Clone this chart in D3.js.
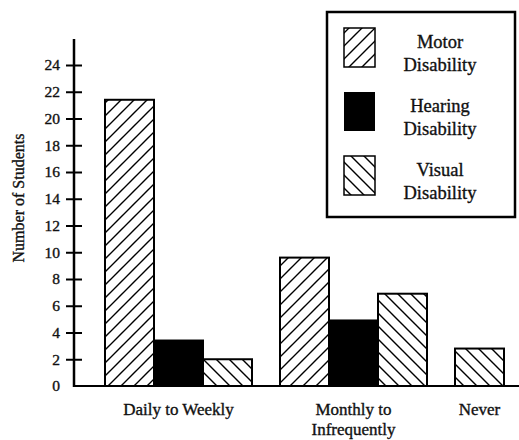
<!DOCTYPE html>
<html lang="en">
<head>
  <meta charset="UTF-8">
  <title>Number of Students by Disability</title>
  <script src="https://d3js.org/d3.v7.min.js"></script>
  <style>
    body {
      margin: 0;
      background: white;
    }
    svg text {
      font-family: "Liberation Serif", "DejaVu Serif", serif;
      fill: #111;
      stroke: #111;
      stroke-width: 0.35px;
    }
  </style>
</head>
<body>
  <svg width="519" height="440"></svg>

  <script>
    const groups = ["Daily to Weekly", "Monthly to Infrequently", "Never"];
    const groupLines = [["Daily to Weekly"], ["Monthly to", "Infrequently"], ["Never"]];
    const seriesNames = ["Motor Disability", "Hearing Disability", "Visual Disability"];
    const seriesLines = [["Motor", "Disability"], ["Hearing", "Disability"], ["Visual", "Disability"]];
    const motor = [21.4, 9.6, 0];
    const hearing = [3.4, 4.9, 0];
    const visual = [2.0, 6.9, 2.8];
    const yTicks = [0, 2, 4, 6, 8, 10, 12, 14, 16, 18, 20, 22, 24];

    const values = [motor, hearing, visual];
    const fills = ["url(#hatchUp)", "#000", "url(#hatchDown)"];

    const svg = d3.select("svg");
    const axisX = 74, baseY = 386;

    // hatch patterns
    const defs = svg.append("defs");
    const up = defs.append("pattern")
      .attr("id", "hatchUp")
      .attr("patternUnits", "userSpaceOnUse")
      .attr("width", 13).attr("height", 13);
    up.append("rect").attr("width", 13).attr("height", 13).attr("fill", "white");
    up.append("path")
      .attr("d", "M-2,2 L2,-2 M0,13 L13,0 M11,15 L15,11")
      .attr("stroke", "#000").attr("stroke-width", 1.4);

    const down = defs.append("pattern")
      .attr("id", "hatchDown")
      .attr("patternUnits", "userSpaceOnUse")
      .attr("width", 13).attr("height", 13);
    down.append("rect").attr("width", 13).attr("height", 13).attr("fill", "white");
    down.append("path")
      .attr("d", "M-2,11 L2,15 M0,0 L13,13 M11,-2 L15,2")
      .attr("stroke", "#000").attr("stroke-width", 1.4);

    const x = d3.scaleBand()
      .domain(groups)
      .range([105, 602])
      .paddingInner(0.16)
      .paddingOuter(0);

    const y = d3.scaleLinear().domain([0, 24]).range([baseY, 65]);

    const barW = x.bandwidth() / seriesNames.length;

    // bars: each group lays its non-zero bars side by side
    const bars = [];
    groups.forEach((g, gi) => {
      let slot = 0;
      seriesNames.forEach((s, si) => {
        const v = values[si][gi];
        if (v > 0) {
          bars.push({ group: g, gi, si, slot, value: v });
          slot++;
        }
      });
    });
    const slotCount = groups.map((g, gi) => bars.filter(b => b.gi === gi).length);

    svg.append("g").selectAll("rect")
      .data(bars)
      .join("rect")
      .attr("x", d => x(d.group) + d.slot * barW)
      .attr("y", d => y(d.value))
      .attr("width", barW)
      .attr("height", d => y(0) - y(d.value))
      .attr("fill", d => fills[d.si])
      .attr("stroke", "#000")
      .attr("stroke-width", 2);

    // baseline and y axis line
    svg.append("line")
      .attr("x1", axisX).attr("x2", 519)
      .attr("y1", baseY).attr("y2", baseY)
      .attr("stroke", "#000").attr("stroke-width", 2);
    svg.append("line")
      .attr("x1", axisX).attr("x2", axisX)
      .attr("y1", 39).attr("y2", baseY + 1)
      .attr("stroke", "#000").attr("stroke-width", 2.5);

    const yAxisL = svg.append("g")
      .attr("transform", `translate(${axisX},0)`)
      .call(d3.axisLeft(y).tickValues(yTicks).tickSize(8).tickPadding(6));
    yAxisL.select(".domain").remove();
    yAxisL.selectAll("line").attr("stroke", "#000").attr("stroke-width", 2)
      .filter(d => d === 0).remove();
    yAxisL.selectAll("text")
      .attr("font-size", 15.5)
      .attr("font-family", "Liberation Serif")
      .attr("fill", "#111");

    const yAxisR = svg.append("g")
      .attr("transform", `translate(${axisX},0)`)
      .call(d3.axisRight(y).tickValues(yTicks.filter(t => t > 0)).tickSize(8).tickFormat(""));
    yAxisR.select(".domain").remove();
    yAxisR.selectAll("line").attr("stroke", "#000").attr("stroke-width", 2);

    // y title
    svg.append("text")
      .attr("transform", "translate(24,198) rotate(-90)")
      .attr("text-anchor", "middle")
      .attr("font-size", 16)
      .text("Number of Students");

    // group labels, centred over the drawn bars
    groups.forEach((g, gi) => {
      const cx = x(g) + slotCount[gi] * barW / 2;
      groupLines[gi].forEach((line, li) => {
        svg.append("text")
          .attr("x", cx)
          .attr("y", 415 + li * 20)
          .attr("text-anchor", "middle")
          .attr("font-size", 17)
          .text(line);
      });
    });

    // legend
    const legend = svg.append("g");
    legend.append("rect")
      .attr("x", 327).attr("y", 12)
      .attr("width", 188).attr("height", 205)
      .attr("fill", "white")
      .attr("stroke", "#000").attr("stroke-width", 2.5);

    seriesNames.forEach((s, si) => {
      const top = 28 + si * 64;
      legend.append("rect")
        .attr("x", 344).attr("y", top)
        .attr("width", 31).attr("height", 39)
        .attr("fill", fills[si])
        .attr("stroke", "#000").attr("stroke-width", si === 1 ? 0 : 1.5);
      seriesLines[si].forEach((line, li) => {
        legend.append("text")
          .attr("x", 440)
          .attr("y", top + 20 + li * 23)
          .attr("text-anchor", "middle")
          .attr("font-size", 18.5)
          .text(line);
      });
    });
  </script>
</body>
</html>
